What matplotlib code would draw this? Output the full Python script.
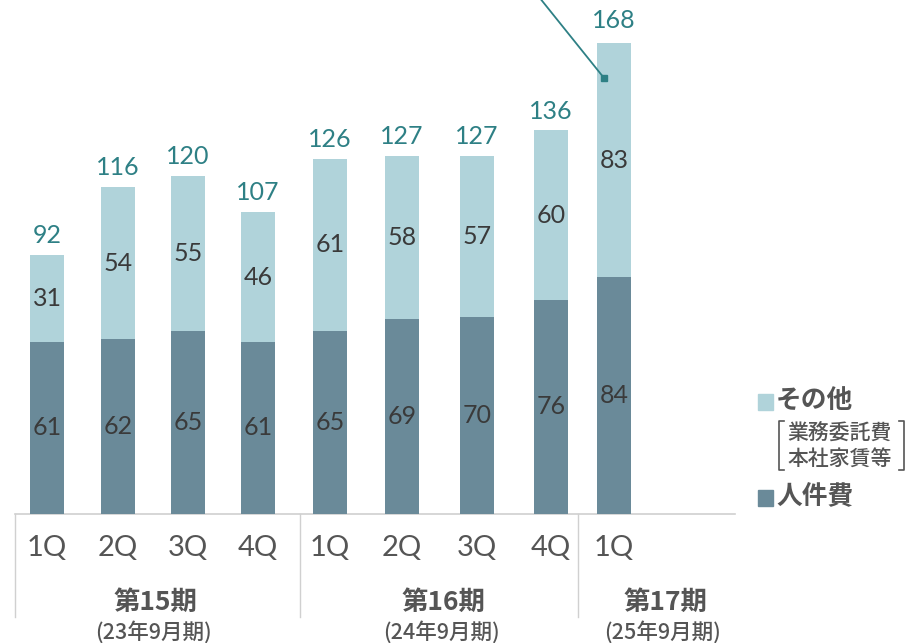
import matplotlib
matplotlib.use("Agg")
import matplotlib.pyplot as plt
import numpy as np

plt.rcParams['font.family'] = ['Noto Sans CJK JP', 'DejaVu Sans']

quarters = ["1Q", "2Q", "3Q", "4Q", "1Q", "2Q", "3Q", "4Q", "1Q"]
personnel = [61, 62, 65, 61, 65, 69, 70, 76, 84]
other = [31, 54, 55, 46, 61, 58, 57, 60, 83]
totals = [92, 116, 120, 107, 126, 127, 127, 136, 168]
periods = ["第15期", "第16期", "第17期"]
period_sub = ["(23年9月期)", "(24年9月期)", "(25年9月期)"]

c_light = "#B0D3DA"
c_dark = "#6A8A99"
c_total = "#2E8085"
c_text = "#3a3a3a"
c_axis = "#555555"
num_font = ['Lato', 'Noto Sans CJK JP']
cjk_font = ['Noto Sans CJK JP', 'DejaVu Sans']

# pixel -> data helpers (figure is 908x643 px, axes fill the figure)
px0, pstep = 47, 70.9
base, scale = 514, 2.82
def X(p):
    return (p - px0) / pstep
def Y(p):
    return (base - p) / scale

fig = plt.figure(figsize=(9.08, 6.43), dpi=100)
ax = fig.add_axes([0, 0, 1, 1])
ax.set_xlim(X(0), X(908))
ax.set_ylim(Y(643), Y(0))
ax.axis("off")

# bar centres in pixels (groups are slightly unevenly spaced in the original)
x = np.array([X(p) for p in [47, 118, 188, 258, 330, 402, 477, 551, 614]])
w = 34 / pstep
ax.bar(x, personnel, w, color=c_dark, zorder=2)
ax.bar(x, other, w, bottom=personnel, color=c_light, zorder=2)

for i in range(len(quarters)):
    ax.text(x[i], personnel[i] / 2, str(personnel[i]), ha="center", va="center",
            fontsize=18, color=c_text, family=num_font)
    ax.text(x[i], personnel[i] + other[i] / 2, str(other[i]), ha="center",
            va="center", fontsize=18, color=c_text, family=num_font)
    ax.text(x[i], totals[i] + 2.8, str(totals[i]), ha="center", va="bottom",
            fontsize=18, color=c_total, family=num_font)
    ax.text(x[i], Y(548), quarters[i], ha="center", va="center", fontsize=21,
            color=c_axis, family=num_font)

# baseline and group separators
ax.plot([X(15), X(735)], [0, 0], color="#d0d0d0", lw=1.2, zorder=1)
for sp in [15, 300, 578]:
    ax.plot([X(sp), X(sp)], [0, Y(617)], color="#d0d0d0", lw=1, zorder=1)

for cx, t, s in zip([155, 443, 665], periods, period_sub):
    ax.text(X(cx), Y(602), t, ha="center", va="center", fontsize=19,
            fontweight="bold", color=c_axis, family=cjk_font)
    ax.text(X(cx - 2), Y(632), s, ha="center", va="center", fontsize=15.5,
            fontweight="medium", color=c_axis, family=cjk_font)

# callout line
ax.plot([X(535), X(604)], [Y(-8), Y(78)], color=c_total, lw=1.3, zorder=3)
ax.plot([X(604)], [Y(78)], marker="s", ms=4, color=c_total, zorder=3)

# legend
ax.add_patch(plt.Rectangle((X(758), Y(410)), 15 / pstep, 16 / scale,
                           color=c_light, clip_on=False))
ax.text(X(776), Y(401), "その他", ha="left", va="center", fontsize=18.5,
        fontweight="bold", color=c_axis)
ax.text(X(787), Y(433), "業務委託費", ha="left", va="center", fontsize=15,
        fontweight="medium", color=c_axis)
ax.text(X(787), Y(459), "本社家賃等", ha="left", va="center", fontsize=15,
        fontweight="medium", color=c_axis)
for bx, d in [(779, 1), (904, -1)]:
    ax.plot([X(bx + 5 * d), X(bx), X(bx), X(bx + 5 * d)],
            [Y(421), Y(421), Y(470), Y(470)], color=c_axis, lw=1.2)
ax.add_patch(plt.Rectangle((X(758), Y(506)), 15 / pstep, 16 / scale,
                           color=c_dark, clip_on=False))
ax.text(X(776), Y(497), "人件費", ha="left", va="center", fontsize=18.5,
        fontweight="bold", color=c_axis)

fig.savefig("out.png", dpi=100)
